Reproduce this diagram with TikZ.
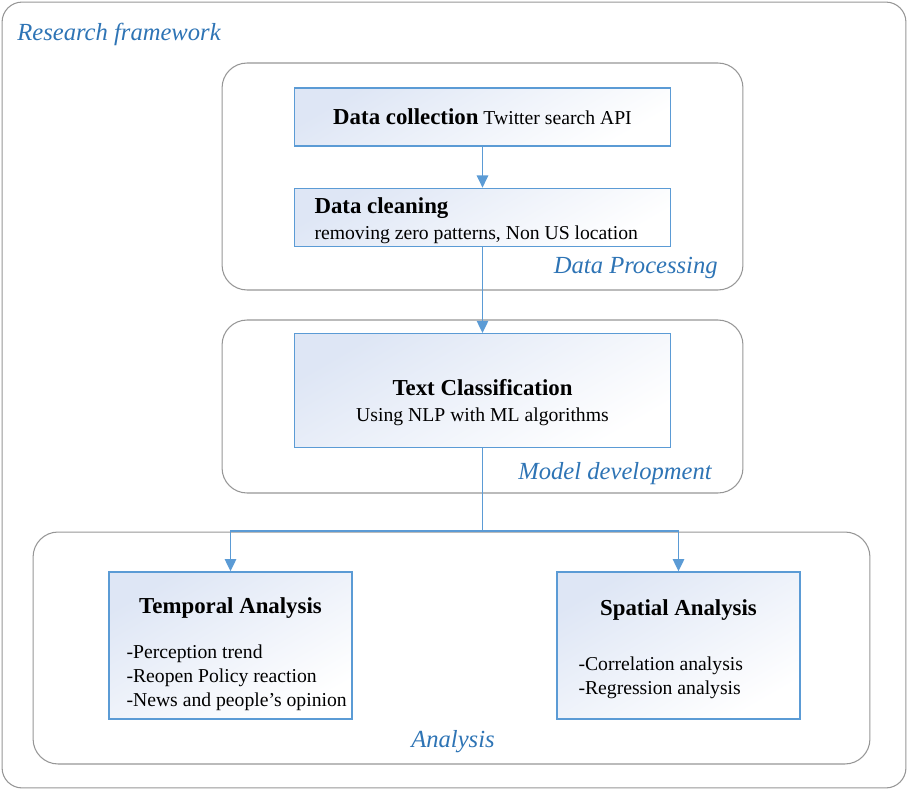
\documentclass[tikz,border=0pt]{standalone}
\usepackage{fontspec}
\setmainfont{Liberation Serif}
\usepackage{tikz}
\usetikzlibrary{arrows.meta, positioning}
\definecolor{boxblue}{RGB}{91,155,213}
\definecolor{labelblue}{RGB}{46,116,181}
\definecolor{groupgray}{RGB}{150,150,150}
\definecolor{shadeblue}{RGB}{222,230,245}
\newcommand{\boxtitle}[1]{{\fontsize{13}{15.5}\selectfont\bfseries #1}}
\tikzstyle{groupbox} = [draw=groupgray, line width=0.6pt, rectangle, rounded corners=0.5cm]
\tikzstyle{grouplabel} = [text=labelblue, font=\fontsize{14}{16}\selectfont\itshape, inner sep=0pt]
\tikzstyle{stepbox} = [draw=boxblue, line width=0.8pt, rectangle, top color=shadeblue, bottom color=white, shading angle=30, minimum width=7.52cm, inner sep=0pt, font=\fontsize{11.2}{14.8}\selectfont]
\tikzstyle{flow} = [draw=boxblue, line width=1pt, -{Triangle[length=7pt,width=6.5pt]}]

\begin{document}
\begin{tikzpicture}[x=0.02cm, y=-0.02cm]
	\useasboundingbox (0,0) rectangle (908,790);
	\node [groupbox, rounded corners=0.4cm, minimum width=18.08cm, minimum height=15.72cm] (frame) at (454,395) {};
	\node [grouplabel, anchor=west] (frametitle) at (17,34) {Research framework};
	\node [groupbox, minimum width=10.42cm, minimum height=4.54cm] (process) at (482.5,176.5) {};
	\node [groupbox, minimum width=10.42cm, minimum height=3.46cm] (model) at (482.5,406.5) {};
	\node [groupbox, minimum width=16.74cm, minimum height=4.64cm] (analysis) at (451.5,648) {};
	\node [grouplabel, anchor=east] (processlabel) at (718,268) {Data Processing};
	\node [grouplabel, anchor=east] (modellabel) at (712,474) {Model development};
	\node [grouplabel] (analysislabel) at (453,742) {Analysis};

	\node [stepbox, minimum height=1.16cm] (collect) at (482.5,117) {\boxtitle{Data collection} Twitter search API};
	\node [stepbox, minimum height=1.16cm, below=0.82cm of collect] (clean){%
		\begin{minipage}{6.72cm}
			\vspace*{0.12cm}
			\boxtitle{Data cleaning}\\
			removing zero patterns, Non US location
		\end{minipage}};
	\node [stepbox, minimum height=2.28cm, below=1.72cm of clean] (classify){%
		\begin{minipage}{6.72cm}
			\vspace*{0.48cm}
			\centering
			\boxtitle{Text Classification}\\
			Using NLP with ML algorithms
		\end{minipage}};
	\node [stepbox, minimum width=4.86cm, minimum height=2.94cm] (temporal) at (230.5,645.5){%
		\begin{minipage}{4.8cm}
			\vspace*{0.34cm}
			{\centering\boxtitle{Temporal Analysis}\par}
			\vspace{12pt}
			\fontsize{11.2}{13.7}\selectfont
			\raggedright
			\leftskip=0.32cm
			-Perception trend\\
			-Reopen Policy reaction\\
			-News and people’s opinion
		\end{minipage}};
	\node [stepbox, minimum width=4.86cm, minimum height=2.94cm] (spatial) at (678.5,645.5){%
		\begin{minipage}{4.8cm}
			\vspace*{0.15cm}
			{\centering\boxtitle{Spatial Analysis}\par}
			\vspace{18pt}
			\fontsize{11.2}{13.7}\selectfont
			\raggedright
			\leftskip=0.4cm
			-Correlation analysis\\
			-Regression analysis
		\end{minipage}};

	\coordinate (split) at (482.5,531);
	\draw [flow] (collect) -- (clean);
	\draw [flow] (clean) -- (classify);
	\draw [boxblue, line width=1pt] (classify) -- (split);
	\draw [flow] (split) -| (temporal);
	\draw [flow] (split) -| (spatial);
\end{tikzpicture}
\end{document}
